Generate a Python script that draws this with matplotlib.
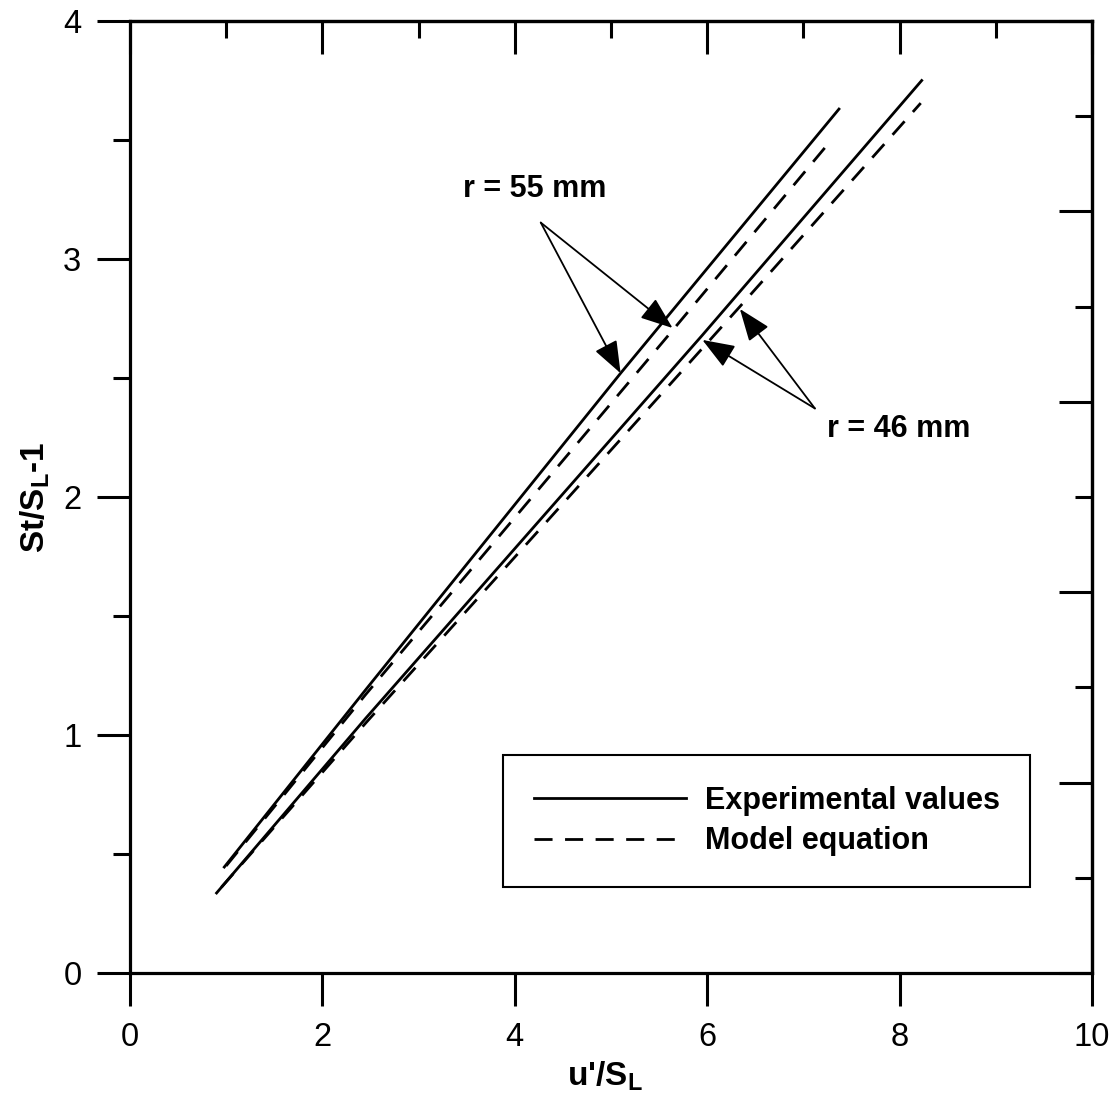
import matplotlib
matplotlib.use("Agg")
import matplotlib.pyplot as plt
from matplotlib.ticker import MultipleLocator

plt.rcParams["font.family"] = ["Liberation Sans", "DejaVu Sans"]
plt.rcParams["mathtext.fontset"] = "custom"
plt.rcParams["mathtext.rm"] = "Liberation Sans"
plt.rcParams["mathtext.bf"] = "Liberation Sans:bold"

# ======================
# Data
# ======================
# r = 55 mm
x55_exp = [0.98, 2.45, 5.10, 7.37]
y55_exp = [0.445, 1.19, 2.52, 3.63]
x55_mod = [1.00, 2.45, 5.64, 7.27]
y55_mod = [0.45, 1.17, 2.70, 3.49]

# r = 46 mm
x46_exp = [0.90, 2.45, 5.95, 8.23]
y46_exp = [0.336, 1.07, 2.68, 3.75]
x46_mod = [0.95, 2.45, 6.34, 8.22]
y46_mod = [0.36, 1.05, 2.80, 3.655]

legend_labels = ["Experimental values", "Model equation"]

# ======================
# Plot
# ======================
fig = plt.figure(figsize=(11.13, 11.06), dpi=100)
ax = fig.add_axes([0.1168, 0.1203, 0.8643, 0.8607])

lw = 2.0
dash = (6.5, 4.5)
ax.plot(x55_exp, y55_exp, color="black", lw=lw, label=legend_labels[0])
ax.plot(x55_mod, y55_mod, color="black", lw=lw, dashes=dash, label=legend_labels[1])
ax.plot(x46_exp, y46_exp, color="black", lw=lw)
ax.plot(x46_mod, y46_mod, color="black", lw=lw, dashes=dash)

ax.set_xlim(0, 10)
ax.set_ylim(0, 4)

# annotations
aprops = dict(arrowstyle="-|>,head_length=1.0,head_width=0.38", color="black",
              lw=1.3, shrinkA=0, shrinkB=0, mutation_scale=20)
for tip in [(5.10, 2.52), (5.64, 2.71)]:
    ax.annotate("", xy=tip, xytext=(4.27, 3.153), arrowprops=aprops)
for tip in [(5.95, 2.66), (6.34, 2.79)]:
    ax.annotate("", xy=tip, xytext=(7.12, 2.372), arrowprops=aprops)
ax.text(3.46, 3.295, "r = 55 mm", fontsize=22, fontweight="bold", va="center", ha="left")
ax.text(7.25, 2.284, "r = 46 mm", fontsize=22, fontweight="bold", va="center", ha="left")

# axes styling
for s in ax.spines.values():
    s.set_linewidth(2.3)

ax.xaxis.set_major_locator(MultipleLocator(2))
ax.yaxis.set_major_locator(MultipleLocator(1))
ax.yaxis.set_minor_locator(MultipleLocator(0.5))
ax.tick_params(axis="both", which="major", direction="out", length=24, width=2.2,
               labelsize=23.5, pad=11, top=False, right=False)
ax.tick_params(axis="y", which="minor", direction="out", length=12, width=2.2)
ax.tick_params(axis="x", which="minor", bottom=False)

top = ax.secondary_xaxis("top")
top.xaxis.set_major_locator(MultipleLocator(2))
top.xaxis.set_minor_locator(MultipleLocator(1))
top.tick_params(which="major", direction="in", length=24, width=2.2, labeltop=False)
top.tick_params(which="minor", direction="in", length=12, width=2.2)
top.spines["top"].set_linewidth(2.3)

right = ax.secondary_yaxis("right")
right.yaxis.set_major_locator(MultipleLocator(0.8))
right.yaxis.set_minor_locator(MultipleLocator(0.4))
right.tick_params(which="major", direction="in", length=24, width=2.2, labelright=False)
right.tick_params(which="minor", direction="in", length=12, width=2.2)
right.spines["right"].set_linewidth(2.3)

ax.set_xlabel(r"u'/S$_\mathbf{L}$", fontsize=24, fontweight="bold")
ax.set_ylabel(r"St/S$_\mathbf{L}$-1", fontsize=24, fontweight="bold")
ax.xaxis.set_label_coords(0.494, -0.091)
ax.yaxis.set_label_coords(-0.081, 0.5)

leg = ax.legend(loc="upper left", bbox_to_anchor=(0.388, 0.229), borderaxespad=0,
                prop={"size": 22, "weight": "bold"}, handlelength=4.97,
                handletextpad=0.62, borderpad=1.0, labelspacing=0.35,
                fancybox=False, framealpha=1, edgecolor="black")
leg.get_frame().set_linewidth(1.5)

plt.savefig("out.png", dpi=100)
